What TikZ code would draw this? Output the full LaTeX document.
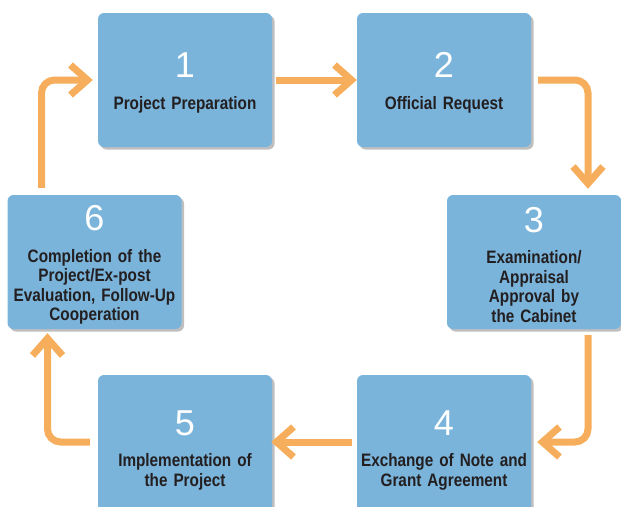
\documentclass[tikz,border=0pt]{standalone}
\usepackage{fontspec}
\usepackage{tikz}
\usetikzlibrary{arrows.meta,shadows,calc,positioning}
\newfontfamily\labfamily[FakeStretch=0.85]{Liberation Sans}
\newfontfamily\numfamily{Liberation Sans}
\definecolor{boxblue}{RGB}{122,180,219}
\definecolor{flowor}{RGB}{246,174,92}
\definecolor{labblack}{RGB}{35,31,32}
\newcommand{\stepnum}[1]{\rule{0pt}{31pt}{\numfamily\mdseries\fontsize{36}{36}\selectfont\color{white}#1}\\[12pt]}

\begin{document}
\begin{tikzpicture}[x=1pt, y=-1pt,
  stepbox/.style={rectangle, rounded corners=6pt, fill=boxblue, text=labblack,
    minimum width=174pt, minimum height=134pt, text width=170pt, inner sep=2pt,
    align=center, font=\labfamily\bfseries\fontsize{18}{19.5}\selectfont,
    drop shadow={shadow xshift=2.5pt, shadow yshift=-2.5pt, fill=black, opacity=0.25}},
  flow/.style={draw=flowor, line width=7pt, rounded corners=13pt,
    -{Straight Barb[length=17pt, width=30pt]}}]
   \useasboundingbox (0,0) rectangle (621,506);
   % the six steps
   \node (b1) [stepbox] at (185,80) {\stepnum{1}Project Preparation};
   \node (b2) [stepbox] at (444,80) {\stepnum{2}Official Request};
   \node (b3) [stepbox] at (534,262) {\stepnum{3}Examination/\\ Appraisal\\ Approval by\\ the Cabinet};
   \node (b4) [stepbox, minimum height=144pt] at (444,447) {\stepnum{4}Exchange of Note and\\ Grant Agreement};
   \node (b5) [stepbox, minimum height=144pt] at (185,447) {\stepnum{5}Implementation of\\ the Project};
   \node (b6) [stepbox] at (94.5,262) {\stepnum{6}Completion of the\\ Project/Ex-post\\ Evaluation, Follow-Up\\ Cooperation};
   % the cycle
   \draw[flow] ([xshift=4pt]b1.east) -- (b2.west);
   \draw[flow] ([xshift=7pt]b2.east) -| ([xshift=54pt,yshift=6pt]b3.north);
   \draw[flow] ([xshift=54pt,yshift=-6pt]b3.south) |- ([xshift=6pt,yshift=5pt]b4.east);
   \draw[flow] ([xshift=-5pt,yshift=5pt]b4.west) -- ([xshift=-1pt,yshift=5pt]b5.east);
   \draw[flow] ([xshift=-8pt,yshift=5pt]b5.west) -| ([xshift=-47pt,yshift=-4pt]b6.south);
   \draw[flow] ([xshift=-53pt,yshift=7pt]b6.north) |- ([xshift=-5pt]b1.west);
\end{tikzpicture}
\end{document}
